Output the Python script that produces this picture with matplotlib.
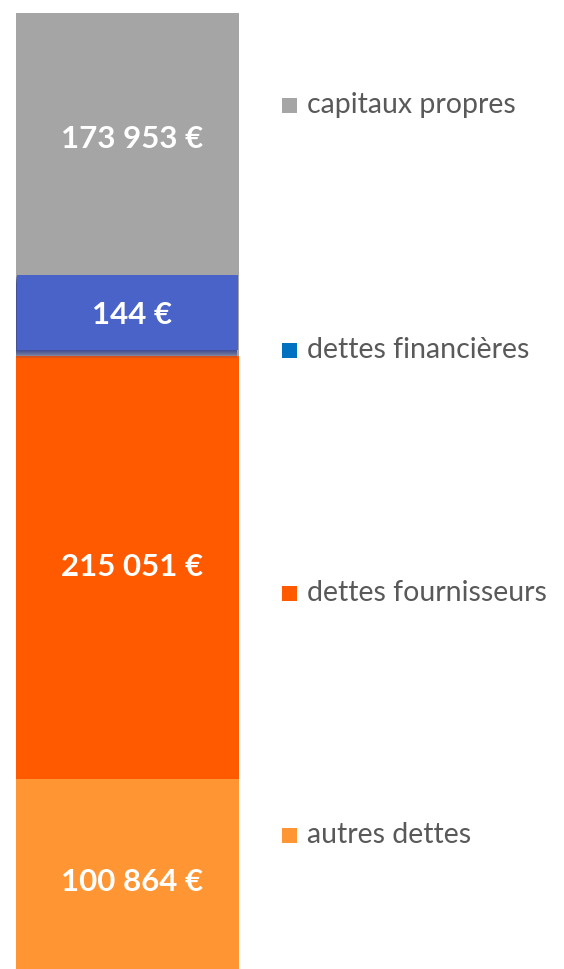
import matplotlib
matplotlib.use("Agg")
import matplotlib.pyplot as plt
from matplotlib.patches import Rectangle
from matplotlib.transforms import offset_copy

# ---- data ----
categories = ["autres dettes", "dettes fournisseurs", "dettes financières", "capitaux propres"]
values = [100864, 215051, 144, 173953]
labels = ["100 864 €", "215 051 €", "144 €", "173 953 €"]

# ---- style ----
bar_colors = ["#FF9533", "#FF5A00", "#4A63C8", "#A5A5A5"]
legend_colors = ["#FF9533", "#FF5A00", "#0070C0", "#A5A5A5"]
legend_y_px = [835, 593, 350, 105]
text_color = "#595959"
FONT = "Lato"
W, H = 564, 969
BLUE_BOX_H = 38000      # display height of the tiny segment's box
BLUE_BOX_LIFT = 3000

fig = plt.figure(figsize=(W / 100, H / 100), dpi=100)
fig.patch.set_facecolor("white")
ax = fig.add_axes([16 / W, 0, (239 - 16) / W, 1])
ax.set_xlim(-0.5, 0.5)
ax.set_ylim(4319, 496618)
ax.axis("off")

cum = 0
bottoms = []
for v in values:
    bottoms.append(cum)
    cum += v

# regular segments (the tiny one is drawn as an overlay box)
for i, (v, b, c) in enumerate(zip(values, bottoms, bar_colors)):
    if i == 2:
        continue
    bb = b if i != 3 else bottoms[2]
    hh = v if i != 3 else v + values[2]
    ax.bar(0, hh, bottom=bb, width=1.0, color=c, edgecolor="none", zorder=2)

# tiny segment box with soft shadow
b_box = bottoms[2] + BLUE_BOX_LIFT
for k in range(7):
    off = 400 + k * 600
    ax.add_patch(Rectangle((-0.5, b_box - off), 0.99, BLUE_BOX_H,
                           facecolor="#22338F", alpha=0.16,
                           edgecolor="none", zorder=3))
ax.bar(0, BLUE_BOX_H, bottom=b_box, width=0.99, color=bar_colors[2],
       edgecolor="none", zorder=4)

# labels
blue_top = b_box + BLUE_BOX_H
label_y = [
    bottoms[0] + values[0] / 2 - 2000,
    bottoms[1] + values[1] / 2,
    b_box + BLUE_BOX_H / 2 - 1500,
    (blue_top + cum) / 2 + 2500,
]
tr = offset_copy(ax.transData, fig=fig, x=5, y=0, units="dots")
for ly, t in zip(label_y, labels):
    ax.text(0, ly, t, ha="center", va="center", color="white", fontsize=22.5,
            fontweight="bold", family=FONT, zorder=5, transform=tr)

# legend
for cat, col, ypx in zip(categories, legend_colors, legend_y_px):
    fig.patches.append(Rectangle((282 / W, 1 - (ypx + 8) / H), 15 / W, 15 / H,
                                 transform=fig.transFigure, facecolor=col,
                                 edgecolor="none"))
    fig.text(307 / W, 1 - ypx / H, cat, ha="left", va="center", color=text_color,
             fontsize=20.5, family=FONT)

fig.savefig("out.png", dpi=100, facecolor="white")
